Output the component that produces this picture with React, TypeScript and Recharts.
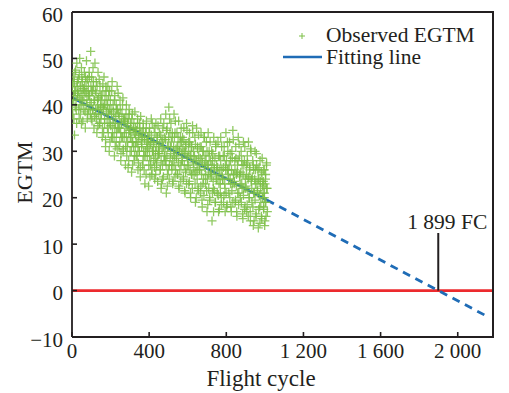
import React from "react";
import {
  ComposedChart,
  XAxis,
  YAxis,
  Scatter,
  Line,
  ReferenceLine,
  Legend,
} from "recharts";

// ---------- data ----------
const observedCycles = [
  1, 4, 6, 9, 13, 15, 18, 22, 25, 28,
  30, 33, 37, 40, 42, 46, 49, 51, 54, 57,
  61, 64, 66, 69, 73, 75, 78, 82, 85, 88,
  90, 93, 97, 100, 102, 106, 109, 111, 114, 117,
  121, 124, 126, 129, 133, 135, 138, 142, 145, 148,
  150, 153, 157, 160, 162, 166, 169, 171, 174, 177,
  181, 184, 186, 189, 193, 195, 198, 202, 205, 208,
  210, 213, 217, 220, 222, 226, 229, 231, 234, 237,
  241, 244, 246, 249, 253, 255, 258, 262, 265, 268,
  270, 273, 277, 280, 282, 286, 289, 291, 294, 297,
  301, 304, 306, 309, 313, 315, 318, 322, 325, 328,
  330, 333, 337, 340, 342, 346, 349, 351, 354, 357,
  361, 364, 366, 369, 373, 375, 378, 382, 385, 388,
  390, 393, 397, 400, 402, 406, 409, 411, 414, 417,
  421, 424, 426, 429, 433, 435, 438, 442, 445, 448,
  450, 453, 457, 460, 462, 466, 469, 471, 474, 477,
  481, 484, 486, 489, 493, 495, 498, 502, 505, 508,
  510, 513, 517, 520, 522, 526, 529, 531, 534, 537,
  541, 544, 546, 549, 553, 555, 558, 562, 565, 568,
  570, 573, 577, 580, 582, 586, 589, 591, 594, 597,
  601, 604, 606, 609, 613, 615, 618, 622, 625, 628,
  630, 633, 637, 640, 642, 646, 649, 651, 654, 657,
  661, 664, 666, 669, 673, 675, 678, 682, 685, 688,
  690, 693, 697, 700, 702, 706, 709, 711, 714, 717,
  721, 724, 726, 729, 733, 735, 738, 742, 745, 748,
  750, 753, 757, 760, 762, 766, 769, 771, 774, 777,
  781, 784, 786, 789, 793, 795, 798, 802, 805, 808,
  810, 813, 817, 820, 822, 826, 829, 831, 834, 837,
  841, 844, 846, 849, 853, 855, 858, 862, 865, 868,
  870, 873, 877, 880, 882, 886, 889, 891, 894, 897,
  901, 904, 906, 909, 913, 915, 918, 922, 925, 928,
  930, 933, 937, 940, 942, 946, 949, 951, 954, 957,
  961, 964, 966, 969, 973, 975, 978, 982, 985, 988,
  990, 993, 995, 998, 1000, 1003, 1005, 1008, 1010, 1013,
];

const observedEgtm = [
  44, 38, 46, 41, 33.5, 47, 43, 39, 49, 45,
  42, 45.5, 37, 50, 40, 44, 36, 46, 41, 43,
  39, 47, 43, 35, 45, 49.5, 41, 38, 44, 42,
  46, 40, 51.5, 37, 43, 39, 48, 44, 35, 41,
  43, 38, 45, 34, 41, 47, 39, 36, 44, 40,
  37, 42, 33, 44.5, 39, 46, 36, 40, 31, 43,
  41, 35, 44, 38, 30, 43, 36, 39, 33, 45,
  34, 40, 37, 29, 42, 36, 32, 39, 44, 35,
  38, 31, 35, 41, 28, 36, 33, 40, 30, 37,
  33, 37, 27, 35, 40, 31, 36, 26.5, 34, 38,
  30, 36, 33, 25.5, 38, 32, 35, 28, 34, 31,
  35, 29, 32, 37, 26, 33, 30, 36, 24.5, 34,
  31, 34, 27, 36, 29, 33, 23, 30, 35, 32,
  29, 33, 22.5, 31, 35, 27, 32, 37, 25, 30,
  32, 28, 35, 24, 30, 36, 27, 33, 29, 31,
  30, 34, 26, 37, 22, 32, 24, 35, 31, 28,
  33, 28, 38, 21, 35, 25, 31, 39.5, 27, 34,
  31, 36, 27, 33, 23, 30, 38, 29, 34, 26,
  29, 34, 25, 31, 36.5, 22, 30, 33, 27, 32,
  28, 33, 24, 35, 30, 21, 31, 26, 36, 29,
  27, 32, 23, 34, 29, 20, 31, 25, 35.5, 28,
  30, 25, 33, 19, 28, 35, 26, 31, 22, 29,
  26, 31, 21, 34, 28, 18, 30, 24, 33, 27,
  29, 23, 32, 17, 27, 34, 25, 30, 20, 28,
  25, 30, 15, 28, 22, 33, 26, 19, 31, 24,
  27, 21, 32, 17, 25, 29, 23, 33, 20, 26,
  24, 29, 19, 31, 22, 27, 34, 18, 26, 30,
  26, 21, 32, 24, 28, 17, 30, 23, 34.5, 25,
  23, 28, 19, 31, 25, 16, 27, 33, 21, 29,
  25, 20, 30, 23, 27, 15.5, 32, 22, 28, 18,
  22, 27, 17, 29, 24, 32, 20, 26, 15, 30,
  24, 19, 28, 14, 26, 21, 30, 23, 16.5, 27,
  21, 26, 13.5, 24, 18, 28, 22, 16, 25, 20,
  23, 18, 26, 21, 15, 24, 19, 27, 22, 17,
];

const observedCyclesB = [
  2, 5, 8, 10, 12, 14, 17, 19, 21, 24, 26, 29,
  32, 35, 38, 40, 42, 44, 47, 49, 51, 54, 56, 59,
  62, 65, 68, 70, 72, 74, 77, 79, 81, 84, 86, 89,
  92, 95, 98, 100, 102, 104, 107, 109, 111, 114, 116, 119,
  122, 125, 128, 130, 132, 134, 137, 139, 141, 144, 146, 149,
  152, 155, 158, 160, 162, 164, 167, 169, 171, 174, 176, 179,
  182, 185, 188, 190, 192, 194, 197, 199, 201, 204, 206, 209,
  212, 215, 218, 220, 222, 224, 227, 229, 231, 234, 236, 239,
  242, 245, 248, 250, 252, 254, 257, 259, 261, 264, 266, 269,
  272, 275, 278, 280, 282, 284, 287, 289, 291, 294, 296, 299,
  302, 305, 308, 310, 312, 314, 317, 319, 321, 324, 326, 329,
  332, 335, 338, 340, 342, 344, 347, 349, 351, 354, 356, 359,
  362, 365, 368, 370, 372, 374, 377, 379, 381, 384, 386, 389,
  392, 395, 398, 400, 402, 404, 407, 409, 411, 414, 416, 419,
  422, 425, 428, 430, 432, 434, 437, 439, 441, 444, 446, 449,
  452, 455, 458, 460, 462, 464, 467, 469, 471, 474, 476, 479,
  482, 485, 488, 490, 492, 494, 497, 499, 501, 504, 506, 509,
  512, 515, 518, 520, 522, 524, 527, 529, 531, 534, 536, 539,
  542, 545, 548, 550, 552, 554, 557, 559, 561, 564, 566, 569,
  572, 575, 578, 580, 582, 584, 587, 589, 591, 594, 596, 599,
  602, 605, 608, 610, 612, 614, 617, 619, 621, 624, 626, 629,
  632, 635, 638, 640, 642, 644, 647, 649, 651, 654, 656, 659,
  662, 665, 668, 670, 672, 674, 677, 679, 681, 684, 686, 689,
  692, 695, 698, 700, 702, 704, 707, 709, 711, 714, 716, 719,
  722, 725, 728, 730, 732, 734, 737, 739, 741, 744, 746, 749,
  752, 755, 758, 760, 762, 764, 767, 769, 771, 774, 776, 779,
  782, 785, 788, 790, 792, 794, 797, 799, 801, 804, 806, 809,
  812, 815, 818, 820, 822, 824, 827, 829, 831, 834, 836, 839,
  842, 845, 848, 850, 852, 854, 857, 859, 861, 864, 866, 869,
  872, 875, 878, 880, 882, 884, 887, 889, 891, 894, 896, 899,
  902, 905, 908, 910, 912, 914, 917, 919, 921, 924, 926, 929,
  932, 935, 938, 940, 942, 944, 947, 949, 951, 954, 956, 959,
  962, 965, 968, 970, 972, 974, 977, 979, 981, 984, 986, 989,
  991, 992, 994, 996, 997, 999, 1001, 1002, 1004, 1006, 1009, 1011,
];

const observedEgtmB = [
  40, 44.5, 42, 37, 45, 43, 39.5, 47.5, 41, 36, 44, 42.5,
  43, 39, 46.5, 41.5, 44, 38, 42, 48, 40, 45, 36.5, 43.5,
  41, 44, 38.5, 46, 42.5, 40, 43, 37, 45.5, 39, 42, 47,
  42, 38, 44, 40.5, 46, 36.5, 43, 39, 45, 41, 37.5, 49,
  39, 42.5, 37, 44, 40, 35.5, 41.5, 38, 45.5, 36, 42, 39.5,
  38, 41, 35, 43, 39.5, 34, 40, 37, 42, 32.5, 44, 38.5,
  37, 40, 34, 42, 36, 39, 32, 41, 35.5, 38, 43, 33,
  36, 38.5, 33, 41, 35, 31, 37.5, 40, 34, 30.5, 39, 42.5,
  35, 37.5, 32, 39, 34, 29.5, 36, 38, 33, 41.5, 30.5, 36.5,
  34, 36.5, 31, 38, 33, 29, 35.5, 32, 37, 28, 39, 34.5,
  33, 35, 30, 37, 32, 27, 34.5, 31, 36, 29, 38.5, 33.5,
  32, 34.5, 29, 36, 31, 27.5, 33.5, 30, 35, 26.5, 37.5, 32.5,
  31.5, 33, 28, 35, 30, 26, 32.5, 29, 34, 25, 36.5, 31,
  30.5, 32.5, 27, 34, 29, 24.5, 31.5, 28, 33.5, 26, 36, 30,
  30, 32, 26.5, 34, 28.5, 25, 31, 27.5, 33, 23.5, 35.5, 29.5,
  29.5, 31.5, 26, 33.5, 28, 23, 30.5, 27, 32.5, 24.5, 36, 29,
  30, 32.5, 27, 34.5, 29, 22.5, 31, 26, 33, 24, 37, 28.5,
  29.5, 32, 26, 34, 28, 23.5, 31, 27, 33, 24.5, 36.5, 30.5,
  28.5, 31, 25, 33, 27.5, 22.5, 30, 26, 32, 23.5, 35, 29.5,
  28, 30.5, 24.5, 32.5, 27, 21.5, 29.5, 25.5, 31.5, 23, 34.5, 28.5,
  27, 30, 23.5, 32, 26, 21, 29, 25, 31, 22, 34, 27.5,
  26.5, 29, 23, 31.5, 25.5, 20, 28, 24, 30.5, 21.5, 33.5, 27,
  26, 28.5, 22.5, 31, 25, 19.5, 27.5, 23, 30, 20.5, 33, 26.5,
  25, 28, 21.5, 30, 24, 18.5, 27, 22, 29, 19.5, 32, 25.5,
  24.5, 27, 21, 29.5, 23.5, 17, 26.5, 21.5, 28.5, 19, 31.5, 25,
  24, 26.5, 20.5, 29, 23, 17.5, 26, 21, 28, 18.5, 31, 24.5,
  24, 26.5, 20.5, 29, 23, 17, 26, 21, 28, 18.5, 32, 25,
  24, 27, 20, 29.5, 23, 18, 26, 21.5, 28.5, 19, 32.5, 25,
  23.5, 26, 19.5, 28.5, 22.5, 17, 25.5, 21, 28, 18.5, 31.5, 24.5,
  23, 25.5, 19, 28, 22, 16.5, 25, 20.5, 27, 17.5, 31, 24,
  22.5, 25, 18.5, 27.5, 21.5, 16, 24.5, 20, 26.5, 17, 30.5, 23.5,
  22, 24.5, 18, 27, 21, 15, 24, 19.5, 26, 16, 29.5, 23,
  21.5, 24, 17.5, 26.5, 20.5, 14.5, 23.5, 19, 25.5, 15.5, 28.5, 22.5,
  21, 23.5, 17.5, 26, 20, 14, 23, 19, 25, 16, 27.5, 22,
];

const fitSolidCycles = [0, 1010];
const fitSolidEgtm = [41.6, 19.5];
const fitDashCycles = [1010, 2150];
const fitDashEgtm = [19.5, -5.5];

const failureCycle = 1899;
const failureLabelTop = 12.4;
const failureLabel = "1 899 FC";

const xTicks = [0, 400, 800, 1200, 1600, 2000];
const yTicks = [-10, 0, 10, 20, 30, 40, 50, 60];
const xDomain = [0, 2188];
const yDomain = [-10, 60];

const seriesNames = ["Observed EGTM", "Fitting line"];
const xLabel = "Flight cycle";
const yLabel = "EGTM";

// ---------- derived tables ----------
const observedData = [
  ...observedCycles.map((c, i) => ({ cycle: c, egtm: observedEgtm[i] })),
  ...observedCyclesB.map((c, i) => ({ cycle: c, egtm: observedEgtmB[i] })),
].sort((a, b) => a.cycle - b.cycle);
const solidData = fitSolidCycles.map((c, i) => ({ cycle: c, egtm: fitSolidEgtm[i] }));
const dashData = fitDashCycles.map((c, i) => ({ cycle: c, egtm: fitDashEgtm[i] }));

// ---------- styles ----------
const FONT = "'Liberation Serif', 'Times New Roman', serif";
const INK = "#231f20";
const GREEN = "#7cbf47";
const BLUE = "#1f6cb6";
const RED = "#ec2a2e";

const CHART_W = 509;
const CHART_H = 393;
const MARGIN = { top: 12, right: 15, bottom: 0, left: 0 };
const X_AXIS_H = 56;
const Y_AXIS_W = 72;
const PLOT = {
  x: MARGIN.left + Y_AXIS_W,
  y: MARGIN.top,
  width: CHART_W - MARGIN.left - MARGIN.right - Y_AXIS_W,
  height: CHART_H - MARGIN.top - MARGIN.bottom - X_AXIS_H,
};

const fmtX = (v: number) =>
  v >= 1000 ? `${Math.floor(v / 1000)} ${String(v % 1000).padStart(3, "0")}` : String(v);
const fmtY = (v: number) => (v < 0 ? `\u2212${Math.abs(v)}` : String(v));

const XTick = (props: any) => {
  const { x, y, payload } = props;
  return (
    <g>
      <line x1={x} x2={x} y1={y} y2={y - 5} stroke={INK} strokeWidth={1.6} />
      <text x={x} y={y + 21} textAnchor="middle" fontFamily={FONT} fontSize={21} fill={INK}>
        {fmtX(payload.value)}
      </text>
    </g>
  );
};

const YTick = (props: any) => {
  const { x, y, payload } = props;
  return (
    <g>
      <line x1={x} x2={x + 5} y1={y} y2={y} stroke={INK} strokeWidth={1.6} />
      <text x={x - 9} y={y + 9.5} textAnchor="end" fontFamily={FONT} fontSize={21} fill={INK}>
        {fmtY(payload.value)}
      </text>
    </g>
  );
};

const PlusShape = (props: any) => {
  const { cx, cy } = props;
  if (cx == null || cy == null) return null;
  return (
    <path
      d={`M${cx - 4.5},${cy}h9M${cx},${cy - 4.5}v9`}
      stroke={GREEN}
      strokeWidth={1.3}
      strokeOpacity={0.85}
      fill="none"
    />
  );
};

const LegendBox = () => (
  <svg width={CHART_W} height={80} style={{ display: "block", pointerEvents: "none" }}>
    <path d="M299,36h6M302,33v6" stroke={GREEN} strokeWidth={1} />
    <text x={326} y={41.5} fontFamily={FONT} fontSize={21.5} fill={INK}>
      {seriesNames[0]}
    </text>
    <line x1={283} x2={322} y1={57} y2={57} stroke={BLUE} strokeWidth={2.6} />
    <text x={326} y={64} fontFamily={FONT} fontSize={21.5} fill={INK}>
      {seriesNames[1]}
    </text>
  </svg>
);

const XLabel = (props: any) => {
  const vb = props.viewBox || { x: 72, y: 337, width: 422, height: 56 };
  return (
    <text
      x={vb.x + vb.width / 2 - 22}
      y={vb.y + 49}
      textAnchor="middle"
      fontFamily={FONT}
      fontSize={23}
      fill={INK}
    >
      {xLabel}
    </text>
  );
};

const YLabel = (props: any) => {
  const vb = props.viewBox || { x: 0, y: 12, width: 72, height: 325 };
  const cx = vb.x + 32;
  const cy = vb.y + vb.height / 2 - 2;
  return (
    <text
      transform={`translate(${cx},${cy}) rotate(-90)`}
      textAnchor="middle"
      fontFamily={FONT}
      fontSize={22}
      fill={INK}
    >
      {yLabel}
    </text>
  );
};

const FailureLabel = (props: any) => {
  const vb = props.viewBox || { x: 0, y: 0 };
  return (
    <text
      x={vb.x + 9}
      y={vb.y - 4}
      textAnchor="middle"
      fontFamily={FONT}
      fontSize={21.5}
      fill={INK}
    >
      {failureLabel}
    </text>
  );
};

export default function App() {
  return (
    <div style={{ position: "absolute", left: 0, top: 0, width: CHART_W, height: CHART_H, background: "#fff" }}>
      <ComposedChart width={CHART_W} height={CHART_H} margin={MARGIN}>
        <XAxis
          dataKey="cycle"
          type="number"
          domain={xDomain}
          ticks={xTicks}
          allowDataOverflow
          tickSize={0}
          tickMargin={0}
          tickLine={false}
          tick={<XTick />}
          axisLine={{ stroke: INK, strokeWidth: 1.8 }}
          height={X_AXIS_H}
          label={<XLabel />}
        />
        <YAxis
          dataKey="egtm"
          type="number"
          domain={yDomain}
          ticks={yTicks}
          allowDataOverflow
          tickSize={0}
          tickMargin={0}
          tickLine={false}
          tick={<YTick />}
          axisLine={{ stroke: INK, strokeWidth: 1.8 }}
          width={Y_AXIS_W}
          label={<YLabel />}
        />
        <ReferenceLine y={0} stroke={RED} strokeWidth={2.8} />
        <Scatter
          name={seriesNames[0]}
          data={observedData}
          dataKey="egtm"
          shape={<PlusShape />}
          isAnimationActive={false}
        />
        <Line
          name={seriesNames[1]}
          data={solidData}
          dataKey="egtm"
          stroke={BLUE}
          strokeWidth={2.8}
          dot={false}
          activeDot={false}
          isAnimationActive={false}
        />
        <Line
          data={dashData}
          dataKey="egtm"
          stroke={BLUE}
          strokeWidth={2.8}
          strokeDasharray="8 6"
          dot={false}
          activeDot={false}
          legendType="none"
          isAnimationActive={false}
        />
        <ReferenceLine
          segment={[
            { x: failureCycle, y: 0 },
            { x: failureCycle, y: failureLabelTop },
          ]}
          stroke={INK}
          strokeWidth={2}
          label={<FailureLabel />}
        />
        <Legend
          layout="horizontal"
          verticalAlign="middle"
          align="center"
          wrapperStyle={{ left: 0, top: 0, width: CHART_W, height: 80, pointerEvents: "none" }}
          content={<LegendBox />}
        />
      </ComposedChart>
      <div
        style={{
          position: "absolute",
          left: PLOT.x,
          top: PLOT.y - 1,
          width: PLOT.width,
          height: PLOT.height,
          borderTop: `2px solid ${INK}`,
          borderRight: `2px solid ${INK}`,
          boxSizing: "border-box",
          pointerEvents: "none",
        }}
      />
    </div>
  );
}
